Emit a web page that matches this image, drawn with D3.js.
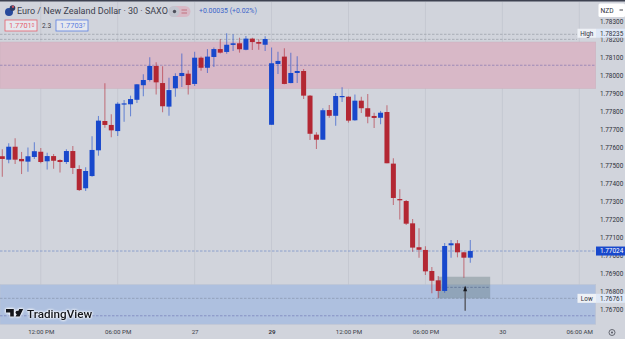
<!DOCTYPE html>
<html>
<head>
<meta charset="utf-8">
<script src="https://cdn.jsdelivr.net/npm/d3@7"></script>
<style>
html,body{margin:0;padding:0;background:#d1d4dc;overflow:hidden}
svg{display:block;font-family:Roboto,sans-serif}
</style>
</head>
<body>
<svg id="chart" width="625" height="339"></svg>
<script>
// EUR/NZD 30-minute candles
const opens = [1.77551,1.77532,1.77604,1.77536,1.77521,1.77547,1.77576,1.77523,1.77552,1.77530,1.77519,1.77580,1.77480,1.77373,1.77441,1.77584,1.77747,1.77725,1.77691,1.77840,1.77840,1.77865,1.77946,1.77975,1.78053,1.77958,1.77827,1.77929,1.77997,1.78010,1.77953,1.78099,1.78043,1.78103,1.78147,1.78131,1.78170,1.78179,1.78143,1.78205,1.78186,1.78171,1.77726,1.78064,1.78105,1.77958,1.78014,1.78025,1.77888,1.77671,1.77643,1.77808,1.77776,1.77882,1.77882,1.77751,1.77860,1.77818,1.77775,1.77765,1.77797,1.77510,1.77313,1.77302,1.77178,1.77045,1.77030,1.76913,1.76861,1.76802,1.77056,1.77067,1.77017,1.76987];
const highs = [1.77590,1.77623,1.77651,1.77575,1.77599,1.77629,1.77597,1.77571,1.77564,1.77534,1.77590,1.77608,1.77501,1.77490,1.77662,1.77775,1.77957,1.77784,1.77851,1.77864,1.77888,1.77953,1.78007,1.78101,1.78073,1.78051,1.77988,1.78012,1.78123,1.78029,1.78132,1.78105,1.78147,1.78155,1.78203,1.78235,1.78229,1.78210,1.78220,1.78210,1.78201,1.78218,1.78155,1.78132,1.78151,1.78127,1.78107,1.78036,1.77892,1.77684,1.77818,1.77836,1.77903,1.77934,1.77884,1.77895,1.77882,1.77897,1.77793,1.77803,1.77834,1.77540,1.77367,1.77308,1.77202,1.77150,1.77050,1.76935,1.76885,1.77069,1.77085,1.77085,1.77020,1.77085];
const lows = [1.77437,1.77512,1.77508,1.77452,1.77465,1.77536,1.77512,1.77478,1.77482,1.77460,1.77508,1.77452,1.77358,1.77358,1.77437,1.77554,1.77710,1.77656,1.77664,1.77743,1.77773,1.77847,1.77884,1.77966,1.77895,1.77795,1.77776,1.77882,1.77936,1.77895,1.77942,1.78027,1.78014,1.78047,1.78123,1.78121,1.78136,1.78127,1.78140,1.78142,1.78143,1.78136,1.77726,1.78008,1.77951,1.77957,1.77958,1.77869,1.77641,1.77591,1.77643,1.77765,1.77721,1.77853,1.77738,1.77749,1.77791,1.77734,1.77708,1.77729,1.77512,1.77280,1.77200,1.77169,1.77020,1.76987,1.76891,1.76789,1.76761,1.76792,1.76987,1.76989,1.76876,1.76959];
const closes = [1.77536,1.77604,1.77532,1.77523,1.77551,1.77579,1.77519,1.77552,1.77526,1.77519,1.77580,1.77486,1.77363,1.77469,1.77586,1.77749,1.77725,1.77695,1.77843,1.77845,1.77869,1.77951,1.77975,1.78053,1.77962,1.77829,1.77919,1.77997,1.78014,1.77947,1.78099,1.78043,1.78105,1.78147,1.78127,1.78171,1.78179,1.78146,1.78205,1.78186,1.78177,1.78203,1.78068,1.78081,1.77953,1.78014,1.78025,1.77888,1.77676,1.77643,1.77807,1.77776,1.77886,1.77886,1.77749,1.77860,1.77818,1.77771,1.77764,1.77793,1.77512,1.77319,1.77306,1.77176,1.77043,1.77031,1.76911,1.76859,1.76802,1.77052,1.77067,1.77017,1.76987,1.77024];

const priceTicks = [1.783,1.782,1.781,1.78,1.779,1.778,1.777,1.776,1.775,1.774,1.773,1.772,1.771,1.77,1.769,1.768,1.767];
const timeTickBars = [6,18,30,42,54,66,78,90];
const timeTickLabels = ["12:00 PM","06:00 PM","27","29","12:00 PM","06:00 PM","30","06:00 AM"];
const boldTimeLabels = ["29"];

const supplyZone = [1.78186,1.77928], supplyMid = 1.78057;
const demandZone = [1.76837,1.76617], demandMid = 1.76664;
const upperRefs = [1.78229,1.78201];
const lastPrice = 1.77024, highPrice = 1.78235, lowPrice = 1.76761;
const riskBox = {barFrom:68, barTo:76.1, top:1.76881, bottom:1.76761, entry:1.76822};
const arrowMark = {bar:72.2, from:1.76692, to:1.76825};

const W = 625, H = 339, paneRight = 595.7, paneBottom = 324.5;
const BLUE = "#1848cc", RED = "#b32733";

const x = d3.scaleLinear().domain([0,73]).range([2.3,470.3]);
const y = d3.scaleLinear().domain([1.767,1.78]).range([309.3,75.5]);

const svg = d3.select("#chart");
svg.append("rect").attr("width",W).attr("height",H).attr("fill","#d1d4dc");
svg.append("rect").attr("width",W).attr("height",1.5).attr("fill","#3d4150");

// vertical session grid
svg.append("g").selectAll("line").data(timeTickBars).join("line")
  .attr("x1",d=>x(d)).attr("x2",d=>x(d)).attr("y1",2).attr("y2",paneBottom)
  .attr("stroke","#c5c8d1").attr("stroke-width",1);

// supply and demand zones
const zone = (bounds,fill,stroke) => svg.append("rect")
  .attr("x",0).attr("width",paneRight)
  .attr("y",y(bounds[0])).attr("height",y(bounds[1])-y(bounds[0]))
  .attr("fill",fill).attr("stroke",stroke).attr("stroke-width",.6);
zone(supplyZone,"#d8b8c7","#cdb3c0");
zone(demandZone,"#aec0df","#bcc3d2");

const dashed = (price,color,x2=paneRight,x1=0,dash="2.5 1.5") => svg.append("line")
  .attr("x1",x1).attr("x2",x2).attr("y1",y(price)).attr("y2",y(price))
  .attr("stroke",color).attr("stroke-width",.8).attr("stroke-dasharray",dash);
upperRefs.forEach(p => dashed(p,"#9fa3ad",577));
dashed(supplyMid,"#8e7fb4");
dashed(demandMid,"#7c84bd");
dashed(lowPrice,"#8b99b3",577);
dashed(lastPrice,"#7b93c9");

// risk box under the last candles
svg.append("rect")
  .attr("x",x(riskBox.barFrom)).attr("width",x(riskBox.barTo)-x(riskBox.barFrom))
  .attr("y",y(riskBox.top)).attr("height",y(riskBox.bottom)-y(riskBox.top))
  .attr("fill","#637a80").attr("fill-opacity",.4);
dashed(riskBox.entry,"#5f7396",x(riskBox.barTo),x(riskBox.barFrom));

// candles
const idx = d3.range(opens.length);
const isUp = i => closes[i] >= opens[i];
const candles = svg.append("g");
candles.selectAll("line").data(idx).join("line")
  .attr("x1",x).attr("x2",x)
  .attr("y1",i=>y(highs[i])).attr("y2",i=>y(lows[i]))
  .attr("stroke",i=>isUp(i)?BLUE:RED).attr("stroke-opacity",.55).attr("stroke-width",1.1);
candles.selectAll("rect").data(idx).join("rect")
  .attr("x",i=>x(i)-2.5).attr("width",5)
  .attr("y",i=>y(Math.max(opens[i],closes[i])))
  .attr("height",i=>Math.max(1.2,Math.abs(y(opens[i])-y(closes[i]))))
  .attr("fill",i=>isUp(i)?BLUE:RED);

// arrow pointing at the entry
svg.append("line")
  .attr("x1",x(arrowMark.bar)).attr("x2",x(arrowMark.bar))
  .attr("y1",y(arrowMark.from)).attr("y2",y(arrowMark.to))
  .attr("stroke","#55585f").attr("stroke-width",1.4);
svg.append("path")
  .attr("transform",`translate(${x(arrowMark.bar)},${y(arrowMark.to)-1})`)
  .attr("d","M0,0L2,5.5L-2,5.5Z").attr("fill","#16181e");

// price axis
const yAxis = d3.axisRight(y).tickValues(priceTicks).tickFormat(d3.format(".5f")).tickSize(0).tickPadding(0);
const yG = svg.append("g").attr("transform","translate(600,0)").call(yAxis);
yG.select(".domain").remove();
yG.selectAll("text").attr("font-size",6.4).attr("fill","#2f323b").attr("font-family","Roboto,sans-serif");

// time axis
const labelOf = d3.scaleOrdinal(timeTickBars,timeTickLabels);
const xAxis = d3.axisBottom(x).tickValues(timeTickBars).tickFormat(labelOf).tickSize(0).tickPadding(0);
const xG = svg.append("g").attr("transform","translate(0,329.5)").call(xAxis);
xG.select(".domain").remove();
xG.selectAll("text").attr("font-size",6.2).attr("fill","#3a3d47").attr("font-family","Roboto,sans-serif")
  .attr("font-weight",d=>boldTimeLabels.includes(labelOf(d))?700:400);

// settings icon in the scale corner
svg.append("circle").attr("cx",612).attr("cy",332.5).attr("r",3).attr("fill","none").attr("stroke","#4a4d57").attr("stroke-width",.8);
svg.append("circle").attr("cx",612).attr("cy",332.5).attr("r",.9).attr("fill","#4a4d57");

// currency selector
svg.append("rect").attr("x",598.5).attr("y",3.5).attr("width",26.5).attr("height",13.5).attr("rx",1.5).attr("fill","#ffffff");
svg.append("text").attr("x",600.5).attr("y",13).attr("font-size",6.6).attr("fill","#2f323b").text("NZD");
svg.append("path").attr("d","M619.5,10L623,10").attr("stroke","#2f323b").attr("stroke-width",.9);

// high, low and last price tags
const tag = (price,text,name) => {
  const cy = y(price);
  if (name) {
    svg.append("rect").attr("x",577.5).attr("y",cy-4.5).attr("width",18.5).attr("height",9).attr("fill","#eef1f6");
    svg.append("text").attr("x",586.8).attr("y",cy+2.3).attr("text-anchor","middle").attr("font-size",6.4).attr("fill","#2f323b").text(name);
  }
  svg.append("rect").attr("x",596).attr("y",cy-4.5).attr("width",29).attr("height",9).attr("fill",name?"#dfe8f6":BLUE);
  svg.append("text").attr("x",600).attr("y",cy+2.3).attr("font-size",6.4).attr("fill",name?"#2f323b":"#ffffff").text(text);
};
tag(highPrice,d3.format(".5f")(highPrice),"High");
tag(lowPrice,d3.format(".5f")(lowPrice),"Low");
tag(lastPrice,d3.format(".5f")(lastPrice),null);

// symbol header
svg.append("circle").attr("cx",9).attr("cy",12).attr("r",4).attr("fill","#274a9c");
svg.append("circle").attr("cx",12.5).attr("cy",8).attr("r",2.8).attr("fill","#2c3a63");
svg.append("circle").attr("cx",13).attr("cy",6.8).attr("r",1.2).attr("fill","#c5505b");
svg.append("text").attr("x",17).attr("y",14.2).attr("font-size",9).attr("fill","#3c404c")
  .text("Euro / New Zealand Dollar · 30 · SAXO");
svg.append("rect").attr("x",168.5).attr("y",6).attr("width",22).attr("height",11).attr("rx",5.5).attr("fill","#d8b9c6");
svg.append("rect").attr("x",168.5).attr("y",6).attr("width",11).attr("height",11).attr("rx",5.5).attr("fill","#c2c5cf");
svg.append("circle").attr("cx",174.5).attr("cy",11.5).attr("r",1.7).attr("fill","#4d505b");
svg.append("path").attr("d","M181.5,10H187M181.5,13H187").attr("stroke","#c2707e").attr("stroke-width",1);
svg.append("text").attr("x",199).attr("y",13).attr("font-size",6.9).attr("fill","#3b63c9").text("+0.00035 (+0.02%)");

const quote = (bx,main,tail,color) => {
  svg.append("rect").attr("x",bx).attr("y",20).attr("width",32).attr("height",11).attr("fill","#e6e8ee").attr("stroke",color).attr("stroke-width",.8);
  const t = svg.append("text").attr("x",bx+4).attr("y",28.2).attr("font-size",7.4).attr("fill",color).text(main);
  t.append("tspan").attr("font-size",4.6).attr("dy",-1.6).text(tail);
};
quote(5,"1.7701","0","#e5606c");
svg.append("text").attr("x",42).attr("y",28.2).attr("font-size",6.6).attr("fill","#3c404c").text("2.3");
quote(56,"1.7703","7","#5b7fe0");

// TradingView watermark
const mark = svg.append("g").attr("transform","translate(6,309)");
const logoGlow = "drop-shadow(0 0 1px #ffffff) drop-shadow(0 0 1px #ffffff)";
mark.append("path").attr("fill","#14161c").style("filter",logoGlow)
  .attr("d","M0,0H7.8V7.6H4.2V3.4H0Z M17.2,0L13.6,7.6H9.6L13.2,0Z M11.2,1.8a1.7,1.7 0 1 1-0.01,0Z");
svg.append("text").attr("x",27).attr("y",317.5).attr("font-size",11.7).attr("font-weight",500)
  .attr("fill","#14161c").style("filter",logoGlow).text("TradingView");
</script>
</body>
</html>
